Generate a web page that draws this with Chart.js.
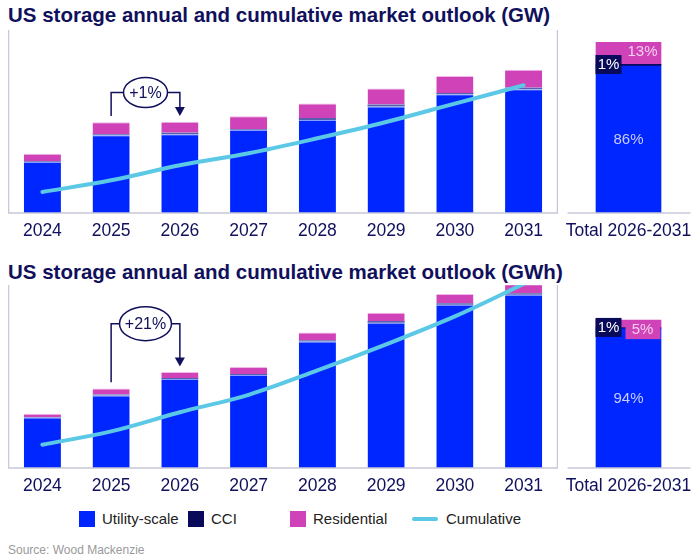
<!DOCTYPE html><html><head><meta charset="utf-8">
<script src="https://cdn.jsdelivr.net/npm/chart.js@4/dist/chart.umd.min.js"></script>
<style>
body{margin:0;width:699px;height:559px;background:#fff;font-family:"Liberation Sans",Arial,sans-serif;position:relative;overflow:hidden}
.t{position:absolute;left:8px;font-weight:bold;font-size:20.5px;color:#10105c;white-space:nowrap}
.c{position:absolute}
.lg{position:absolute;top:510px;font-size:15px;color:#222;display:flex;align-items:center}
.sw{display:inline-block;width:16px;height:16px;margin-right:7px}
</style></head><body>
<div class="t" style="top:3px">US storage annual and cumulative market outlook (GW)</div>
<div class="t" style="top:260px">US storage annual and cumulative market outlook (GWh)</div>
<div class="c" style="left:8px;top:28px;width:550px;height:222px"><canvas id="m1"></canvas></div>
<div class="c" style="left:558px;top:28px;width:141px;height:222px"><canvas id="t1"></canvas></div>
<div class="c" style="left:8px;top:283px;width:550px;height:222px"><canvas id="m2"></canvas></div>
<div class="c" style="left:558px;top:283px;width:141px;height:222px"><canvas id="t2"></canvas></div>
<div class="lg" style="left:79px"><span class="sw" style="background:#0026ff"></span>Utility-scale</div>
<div class="lg" style="left:188px"><span class="sw" style="background:#0a0a5a"></span>CCI</div>
<div class="lg" style="left:290px"><span class="sw" style="background:#d042b8"></span>Residential</div>
<div class="lg" style="left:412px"><span style="display:inline-block;width:26px;height:4px;background:#5bc8e6;margin-right:8px;border-radius:2px"></span>Cumulative</div>
<div style="position:absolute;left:8px;top:543px;font-size:12px;color:#9a9a9a">Source: Wood Mackenzie</div>
<script>
const years=['2024','2025','2026','2027','2028','2029','2030','2031'];
const gwUtility=[51,77.7,78.7,83,93,106.4,118.7,123.7];
const gwCCI=[0.7,1,1.5,0.7,2,2,1.3,1.5];
const gwResidential=[7.5,12,11,13,14.4,16,17,18];
const gwCumulative=[21,32.7,47.7,59.7,74.7,91,109.4,127.7];
const gwTotal={utility:147,cci:1.7,residential:22};
const gwPct=['86%','1%','13%'];
const gwhUtility=[48.3,69.3,85,89,121,139,156,165.7];
const gwhCCI=[0.5,1,1,0.8,1.2,1.5,1.5,1.5];
const gwhResidential=[3,5.7,5.7,6.7,7.3,8,9,8.6];
const gwhCumulative=[22.3,35,53.3,70,93.3,118.3,145,176];
const gwhTotal={utility:133,cci:1.4,residential:7};
const gwhPct=['94%','1%','5%'];
const totalLabel=['Total 2026-2031'];
const C={u:'#0026ff',c:'#0a0a5a',r:'#d042b8',l:'#5bc8e6',navy:'#10105c',grid:'#c8c8d8'};
const FONT='"Liberation Sans",Arial,sans-serif';

function frame(lr){return{id:'frame',afterDraw(ch){const a=ch.chartArea,x=ch.ctx;x.save();x.strokeStyle=C.grid;x.lineWidth=1.5;x.beginPath();
 if(lr){x.moveTo(a.left+0.5,a.top);x.lineTo(a.left+0.5,a.bottom);x.moveTo(a.right-0.5,a.top);x.lineTo(a.right-0.5,a.bottom);}
 x.moveTo(lr?a.left:a.left+9,a.bottom);x.lineTo(lr?a.right:a.right-8,a.bottom);x.stroke();x.restore();}};}

function bracket(label,yTopV,yStartV,yEndV,rx,ry){return{id:'br',afterDatasetsDraw(ch){const xs=ch.scales.x,ys=ch.scales.y,x=ch.ctx;
 const x1=xs.getPixelForValue(1),x2=xs.getPixelForValue(2),yt=ys.getPixelForValue(yTopV),y1=ys.getPixelForValue(yStartV),y2=ys.getPixelForValue(yEndV);const cx=(x1+x2)/2;
 x.save();x.strokeStyle=C.navy;x.lineWidth=1.5;x.beginPath();x.moveTo(x1,y1);x.lineTo(x1,yt);x.lineTo(x2,yt);x.lineTo(x2,y2-8);x.stroke();
 x.fillStyle=C.navy;x.beginPath();x.moveTo(x2-5,y2-9);x.lineTo(x2+5,y2-9);x.lineTo(x2,y2);x.closePath();x.fill();
 x.fillStyle='#fff';x.beginPath();x.ellipse(cx,yt,rx,ry,0,0,Math.PI*2);x.fill();x.stroke();
 x.fillStyle=C.navy;x.font='16px '+FONT;x.textAlign='center';x.textBaseline='middle';x.fillText(label,cx,yt+1);x.restore();}};}

function pctLabels(tot,pct){return{id:'pl',afterDatasetsDraw(ch){const xs=ch.scales.x,ys=ch.scales.y,x=ch.ctx;const cx=xs.getPixelForValue(0);
 const uTop=ys.getPixelForValue(tot.utility),all=ys.getPixelForValue(tot.utility+tot.cci+tot.residential);
 x.save();x.font='15px '+FONT;x.textBaseline='middle';x.textAlign='center';
 x.fillStyle='#c8ccff';x.fillText(pct[0],cx,(uTop+ys.getPixelForValue(0))/2);
 x.fillStyle=C.c;x.fillRect(cx-33,uTop-11,26,19);x.fillStyle='#fff';x.fillText(pct[1],cx-20,uTop-1);
 x.fillStyle=C.r;x.fillRect(cx-3,all,35,19);x.fillStyle='#f4d0ec';x.fillText(pct[2],cx+14,all+10);
 x.restore();}};}

const common=(max)=>({responsive:true,maintainAspectRatio:false,animation:false,layout:{padding:{top:2,left:0,right:0,bottom:0}},
 plugins:{legend:{display:false},tooltip:{enabled:false}},
 scales:{x:{stacked:true,offset:true,grid:{display:false,drawTicks:false},border:{display:false},ticks:{color:C.navy,font:{size:17.5,family:FONT},padding:8}},
 y:{stacked:true,display:false,min:0,max:max}}});

function main(id,u,c,r,cum,max,br){
 new Chart(document.getElementById(id),{data:{labels:years,datasets:[
  {type:'line',data:cum,borderColor:C.l,borderWidth:4,pointRadius:0,tension:0.35,stack:'l',order:0,borderCapStyle:'round'},
  {type:'bar',data:u,backgroundColor:C.u,borderColor:'#8a9cff',borderWidth:{top:1},barPercentage:0.54,categoryPercentage:1,stack:'b',order:1},
  {type:'bar',data:c,backgroundColor:'#5560b0',barPercentage:0.54,categoryPercentage:1,stack:'b',order:1},
  {type:'bar',data:r,backgroundColor:C.r,borderColor:'#f0b8e6',borderWidth:{top:1},barPercentage:0.54,categoryPercentage:1,stack:'b',order:1}]},
  options:common(max),plugins:[frame(true),br]});}
function total(id,t,pct,max){
 new Chart(document.getElementById(id),{type:'bar',data:{labels:totalLabel,datasets:[
  {data:[t.utility],backgroundColor:C.u,barThickness:65},{data:[t.cci],backgroundColor:C.c,barThickness:65},{data:[t.residential],backgroundColor:C.r,barThickness:65}]},
  options:common(max),plugins:[frame(false),pctLabels(t,pct)]});}
main('m1',gwUtility,gwCCI,gwResidential,gwCumulative,183,bracket('+1%',120.5,97,97,22,15));
total('t1',gwTotal,gwPct,183);
main('m2',gwhUtility,gwhCCI,gwhResidential,gwhCumulative,175,bracket('+21%',138,82,97,26,17));
total('t2',gwhTotal,gwhPct,175);
</script></body></html>
